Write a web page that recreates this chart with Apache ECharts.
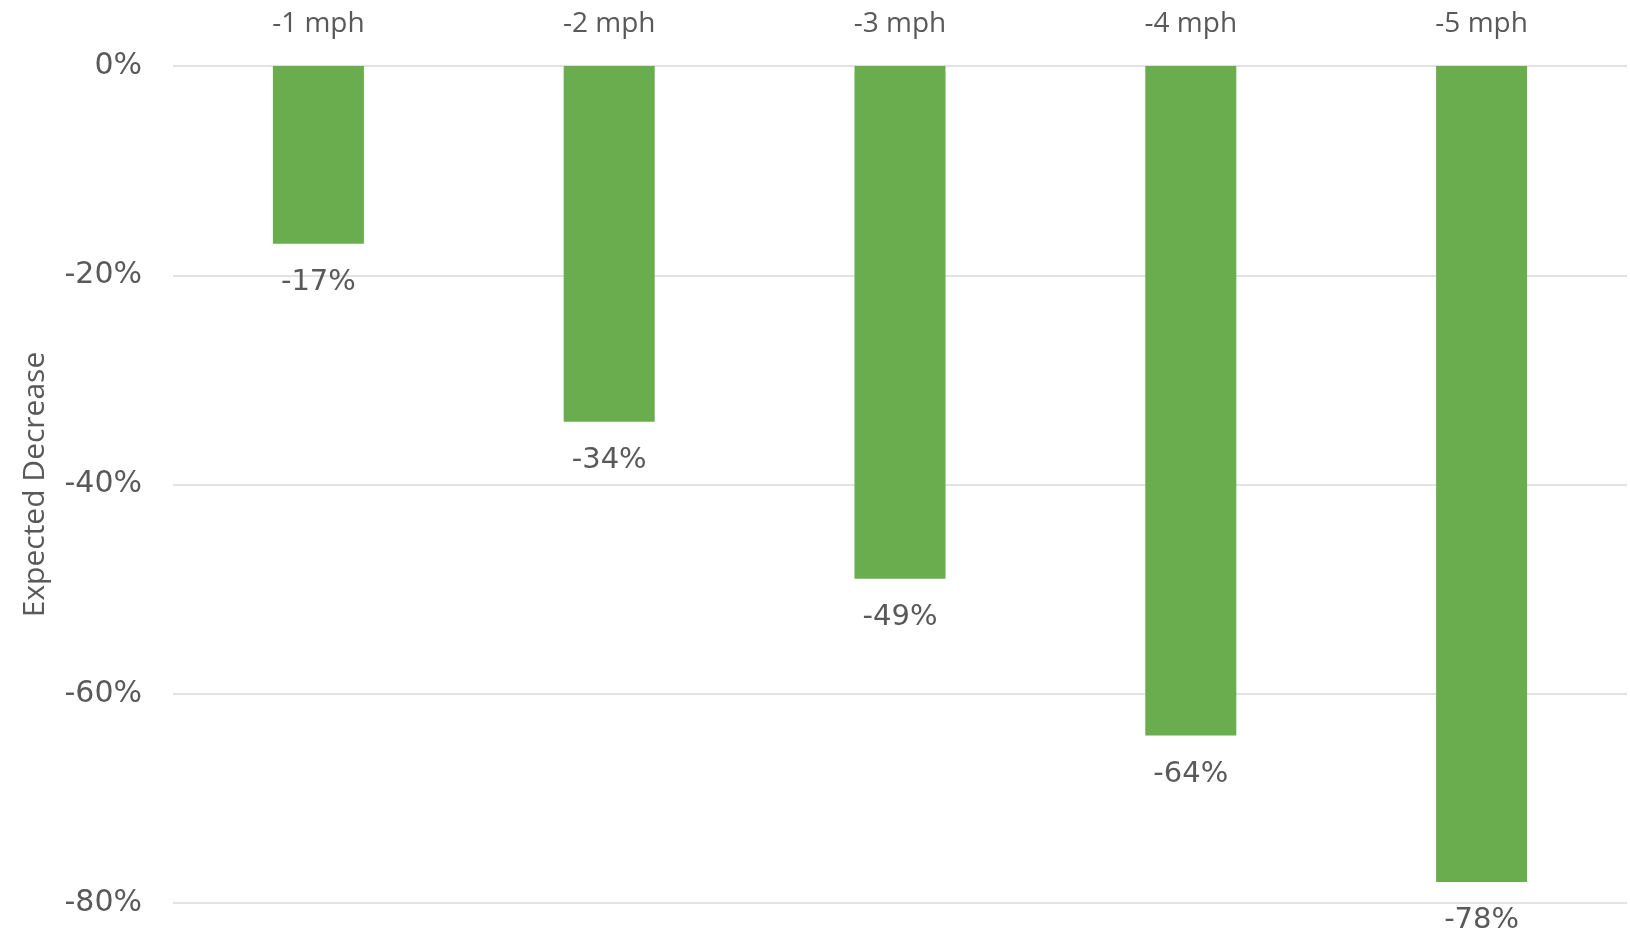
<!DOCTYPE html>
<html>
<head>
<meta charset="utf-8">
<script src="https://cdn.jsdelivr.net/npm/echarts@6/dist/echarts.min.js"></script>
<style>
html,body{margin:0;padding:0;background:#fff;}
#chart{width:1630px;height:934px;}
</style>
</head>
<body>
<div id="chart"></div>
<script>
var categories = ['-1 mph', '-2 mph', '-3 mph', '-4 mph', '-5 mph'];
var decreaseValues = [-17, -34, -49, -64, -78];
var yTickMin = -80;
var yTickMax = 0;
var yTickStep = 20;
var yAxisTitle = 'Expected Decrease';

var FONT = '"Open Sans", sans-serif';
var NUMFONT = '"DejaVu Sans", sans-serif';
var GREY = '#595959';

var chart = echarts.init(document.getElementById('chart'), null, {renderer: 'canvas'});
chart.setOption({
  animation: false,
  backgroundColor: '#ffffff',
  grid: {left: 173, right: 3, top: 66, bottom: 31, containLabel: false},
  xAxis: {
    type: 'category',
    position: 'top',
    data: categories,
    axisLine: {show: false},
    axisTick: {show: false},
    axisLabel: {color: GREY, fontFamily: FONT, fontSize: 28, margin: 28}
  },
  yAxis: {
    type: 'value',
    min: yTickMin,
    max: yTickMax,
    interval: yTickStep,
    name: yAxisTitle,
    nameLocation: 'middle',
    nameGap: 123,
    nameTextStyle: {color: GREY, fontFamily: FONT, fontSize: 30},
    axisLine: {show: false},
    axisTick: {show: false},
    axisLabel: {color: GREY, fontFamily: NUMFONT, fontSize: 30, margin: 31,
      formatter: function (v) { return v + '%'; }},
    splitLine: {lineStyle: {color: '#d9d9d9', width: 1.5}}
  },
  series: [{
    type: 'bar',
    data: decreaseValues,
    barWidth: '31.3%',
    itemStyle: {color: '#6aad4e'},
    label: {
      show: true,
      position: 'bottom',
      distance: 24,
      color: GREY,
      fontFamily: NUMFONT,
      fontSize: 29,
      formatter: function (p) { return p.value + '%'; }
    }
  }]
});
</script>
</body>
</html>
